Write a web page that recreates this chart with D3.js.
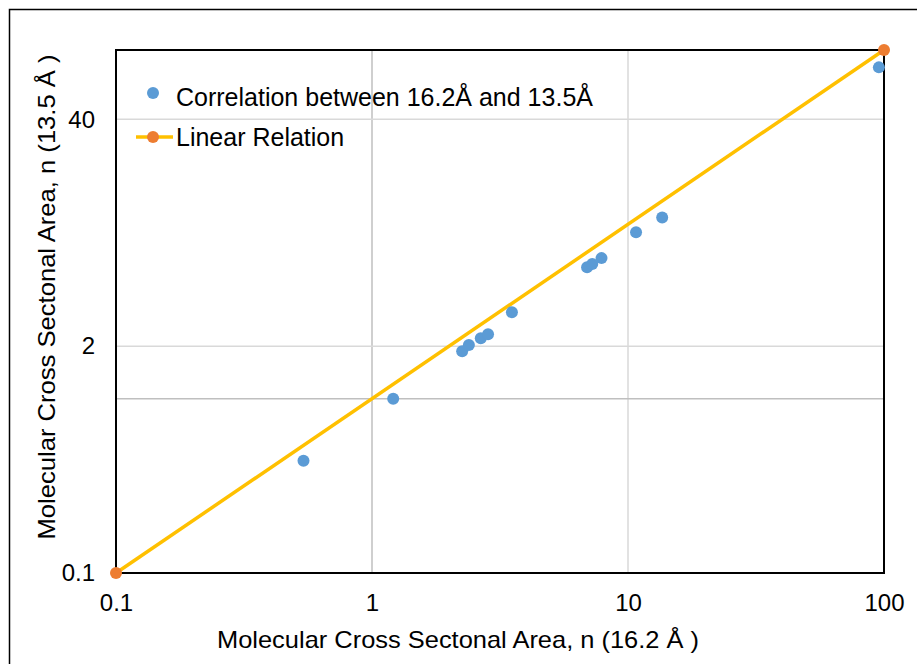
<!DOCTYPE html>
<html>
<head>
<meta charset="utf-8">
<script src="https://cdn.jsdelivr.net/npm/d3@7"></script>
<style>
  body { margin: 0; background: #fff; }
  text { font-family: "Liberation Sans", Arial, sans-serif; fill: #000; }
</style>
</head>
<body>
<svg id="chart" width="917" height="664"></svg>
<script>
// === data ===
var corrX = [0.54, 1.21, 2.25, 2.39, 2.66, 2.84, 3.52, 6.92, 7.25, 7.88, 10.75, 13.6, 95.5];
var corrY = [0.44, 1.0, 1.87, 2.03, 2.22, 2.34, 3.13, 5.67, 5.92, 6.4, 9.0, 10.95, 79.5];
var lineX = [0.1, 100];
var lineY = [0.1, 100];
var xTicks = [0.1, 1, 10, 100];
var yTicks = [0.1, 2, 40];
var xGrid = [1, 10];
var yGrid = [2, 40];
var legendLabels = ["Correlation between 16.2Å and 13.5Å", "Linear Relation"];

var svg = d3.select("#chart");
var pLeft = 116, pRight = 884, pTop = 50, pBottom = 573;

var x = d3.scaleLog().domain([0.1, 100]).range([pLeft, pRight]);
var y = d3.scaleLog().domain([0.1, 100]).range([pBottom, pTop]);

// outer frame (left and top only visible)
svg.append("path")
    .attr("d", "M9.5,664 L9.5,9.5 L917,9.5")
    .attr("fill", "none").attr("stroke", "#000").attr("stroke-width", 1.5);

// gridlines
svg.selectAll(".gx").data(xGrid).enter().append("line")
    .attr("x1", function (d) { return x(d); }).attr("x2", function (d) { return x(d); })
    .attr("y1", pTop).attr("y2", pBottom)
    .attr("stroke", function (d) { return d == 1 ? "#bfbfbf" : "#d9d9d9"; })
    .attr("stroke-width", 1.5);
svg.selectAll(".gy").data(yGrid).enter().append("line")
    .attr("x1", pLeft).attr("x2", pRight)
    .attr("y1", function (d) { return y(d); }).attr("y2", function (d) { return y(d); })
    .attr("stroke", "#d9d9d9").attr("stroke-width", 1.5);
// horizontal axis line crossing at 1
svg.append("line")
    .attr("x1", pLeft).attr("x2", pRight).attr("y1", y(1)).attr("y2", y(1))
    .attr("stroke", "#bfbfbf").attr("stroke-width", 1.5);

// plot border
svg.append("rect")
    .attr("x", pLeft).attr("y", pTop).attr("width", pRight - pLeft).attr("height", pBottom - pTop)
    .attr("fill", "none").attr("stroke", "#000").attr("stroke-width", 2);

// tick labels
var xAxis = d3.axisBottom(x).tickValues(xTicks).tickFormat(function (d) { return String(d); }).tickSize(0).tickPadding(21);
var gx = svg.append("g").attr("transform", "translate(0," + pBottom + ")").call(xAxis);
gx.select(".domain").remove();
gx.selectAll("text").style("font-size", "24px").style("font-family", "Liberation Sans, Arial, sans-serif");

var yAxis = d3.axisLeft(y).tickValues(yTicks).tickFormat(function (d) { return String(d); }).tickSize(0).tickPadding(21);
var gy = svg.append("g").attr("transform", "translate(" + pLeft + ",0)").call(yAxis);
gy.select(".domain").remove();
gy.selectAll("text").style("font-size", "24px").style("font-family", "Liberation Sans, Arial, sans-serif");

// linear relation
var line = d3.line().x(function (d) { return x(d[0]); }).y(function (d) { return y(d[1]); });
var linePts = lineX.map(function (v, i) { return [v, lineY[i]]; });
svg.append("path").datum(linePts)
    .attr("d", line).attr("fill", "none").attr("stroke", "#ffc000").attr("stroke-width", 3.5);

// scatter
svg.selectAll(".pt").data(corrX).enter().append("circle")
    .attr("cx", function (d) { return x(d); })
    .attr("cy", function (d, i) { return y(corrY[i]); })
    .attr("r", 6).attr("fill", "#5b9bd5");

svg.selectAll(".lp").data(linePts).enter().append("circle")
    .attr("cx", function (d) { return x(d[0]); })
    .attr("cy", function (d) { return y(d[1]); })
    .attr("r", 6).attr("fill", "#ed7d31");

// axis titles
svg.append("text")
    .attr("x", 458).attr("y", 648).attr("text-anchor", "middle")
    .attr("textLength", 482).attr("lengthAdjust", "spacingAndGlyphs")
    .style("font-size", "24px")
    .text("Molecular Cross Sectonal Area, n (16.2 Å )");
svg.append("text")
    .attr("transform", "translate(55,297) rotate(-90)").attr("text-anchor", "middle")
    .attr("textLength", 485).attr("lengthAdjust", "spacingAndGlyphs")
    .style("font-size", "24px")
    .text("Molecular Cross Sectonal Area, n (13.5 Å )");

// legend
var leg = svg.append("g");
leg.append("circle").attr("cx", 153).attr("cy", 93).attr("r", 6).attr("fill", "#5b9bd5");
leg.append("line").attr("x1", 136).attr("x2", 173).attr("y1", 137).attr("y2", 137)
    .attr("stroke", "#ffc000").attr("stroke-width", 3.5);
leg.append("circle").attr("cx", 153).attr("cy", 137).attr("r", 6).attr("fill", "#ed7d31");
leg.selectAll(".lt").data(legendLabels).enter().append("text")
    .attr("x", 176).attr("y", function (d, i) { return 106 + i * 40; })
    .style("font-size", "25px")
    .text(function (d) { return d; });
</script>
</body>
</html>
